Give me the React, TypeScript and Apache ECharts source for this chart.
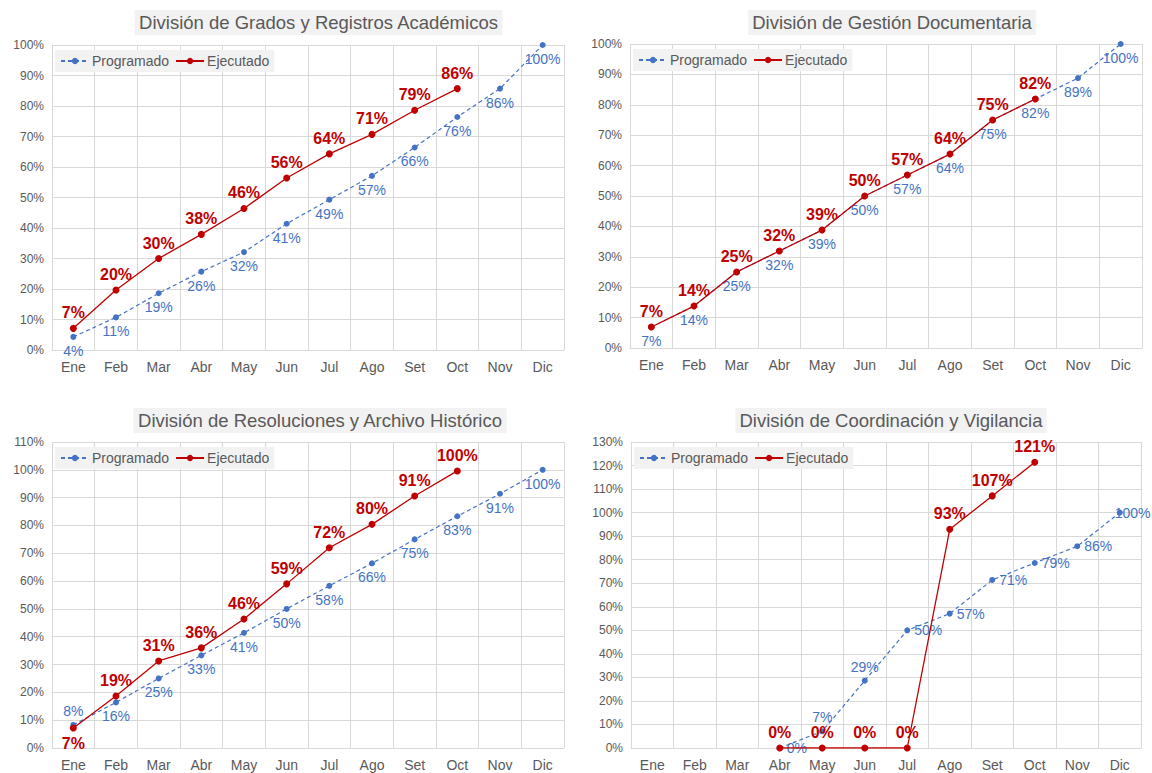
import React, { useEffect, useRef } from "react";
import * as echarts from "echarts";

const months = ["Ene", "Feb", "Mar", "Abr", "May", "Jun", "Jul", "Ago", "Set", "Oct", "Nov", "Dic"];

const titles = [
  "División de Grados y Registros Académicos",
  "División de Gestión Documentaria",
  "División de Resoluciones y Archivo Histórico",
  "División de Coordinación y Vigilancia",
];

const prog1 = [4.3, 10.7, 18.6, 25.7, 32.1, 41.4, 49.3, 57.1, 66.4, 76.4, 85.7, 100];
const ejec1 = [7.1, 19.7, 30, 37.9, 46.4, 56.4, 64.3, 70.7, 78.6, 85.7];
const prog2 = [6.9, 13.8, 25, 31.9, 38.8, 50, 56.9, 63.8, 75, 81.9, 88.8, 100];
const ejec2 = [6.9, 13.8, 25, 31.9, 38.8, 50, 56.9, 63.8, 75, 81.9];
const prog3 = [8.3, 16.4, 25, 33.3, 41.4, 50, 58.3, 66.4, 75, 83.3, 91.4, 100];
const ejec3 = [7.2, 18.7, 31.3, 36, 46.4, 59, 72, 80.4, 90.6, 99.6];
const prog4 = [null, null, null, 0, 7.1, 28.6, 50, 57.1, 71.4, 78.6, 85.7, 100];
const ejec4 = [null, null, null, 0, 0, 0, 0, 92.9, 107.1, 121.4];

const yMax = [100, 100, 110, 130];

const progPos = [
  Array(12).fill("bottom"),
  Array(12).fill("bottom"),
  ["top", "bottom", "bottom", "bottom", "bottom", "bottom", "bottom", "bottom", "bottom", "bottom", "bottom", "bottom"],
  ["right", "right", "right", "right", "top", "top", "right", "right", "right", "right", "right", "right"],
];
const ejecPos = [
  Array(10).fill("top"),
  Array(10).fill("top"),
  ["bottom", "top", "top", "top", "top", "top", "top", "top", "top", "top"],
  Array(10).fill("top"),
];

const progData = [prog1, prog2, prog3, prog4];
const ejecData = [ejec1, ejec2, ejec3, ejec4];

const grids = [
  { left: 52, top: 45, width: 512, height: 305 },
  { left: 630, top: 44, width: 512, height: 304 },
  { left: 52, top: 442, width: 512, height: 306 },
  { left: 631, top: 442, width: 510, height: 306 },
];
const titlePos = [
  { x: 314.5, y: 10 },
  { x: 888, y: 10 },
  { x: 316, y: 408 },
  { x: 887, y: 408 },
];

const FONT = "Liberation Sans, Arial, sans-serif";
const BLUE = "#4472c4";
const RED = "#c00000";
const GREY = "#595959";

export default function App() {
  const ref = useRef<HTMLDivElement>(null);
  useEffect(() => {
    if (!ref.current) return;
    const chart = echarts.init(ref.current, undefined, { renderer: "svg" });
    const fmt = (p: any) => (p.value == null ? "" : Math.round(p.value) + "%");
    const series: any[] = [];
    for (let i = 0; i < 4; i++) {
      series.push({
        name: "Programado",
        type: "line",
        xAxisIndex: i,
        yAxisIndex: i,
        data: progData[i].map((v, j) => {
          const lbl: any = { position: progPos[i][j] };
          if (i === 3 && j === 11) {
            lbl.distance = 0;
            lbl.offset = [-8, 0];
          }
          return { value: v, label: lbl };
        }),
        symbol: "circle",
        symbolSize: 6,
        lineStyle: { color: BLUE, width: 1.2, type: [4, 3] },
        itemStyle: { color: BLUE },
        label: { show: true, formatter: fmt, color: BLUE, fontSize: 14, fontFamily: FONT, distance: 4 },
        z: 2,
      });
      series.push({
        name: "Ejecutado",
        type: "line",
        xAxisIndex: i,
        yAxisIndex: i,
        data: ejecData[i].map((v, j) => ({ value: v, label: { position: ejecPos[i][j] } })),
        symbol: "circle",
        symbolSize: 7,
        lineStyle: { color: RED, width: 1.3 },
        itemStyle: { color: RED },
        label: { show: true, formatter: fmt, color: RED, fontSize: 16, fontWeight: "bold", fontFamily: FONT, distance: 4 },
        z: 3,
      });
    }
    const option: any = {
      animation: false,
      textStyle: { fontFamily: FONT },
      title: titles.map((t, i) => ({
        text: t,
        left: titlePos[i].x,
        top: titlePos[i].y,
        textAlign: "center",
        backgroundColor: "#f2f2f2",
        padding: [3, 4, 3, 4],
        textStyle: { fontSize: 18.5, fontWeight: "normal", color: GREY, fontFamily: FONT },
      })),
      legend: grids.map((g) => ({
        data: ["Programado", "Ejecutado"],
        left: g.left + 3,
        top: g.top + 5,
        backgroundColor: "#f2f2f2",
        padding: [4, 5, 4, 5],
        itemGap: 6,
        itemWidth: 28,
        itemHeight: 8,
        textStyle: { fontSize: 14, color: GREY, fontFamily: FONT, padding: [0, 0, 0, -2] },
        selectedMode: false,
      })),
      grid: grids.map((g) => ({ ...g, containLabel: false })),
      xAxis: grids.map((g, i) => ({
        type: "category",
        gridIndex: i,
        data: months,
        boundaryGap: true,
        axisLine: { show: true, lineStyle: { color: "#d9d9d9", width: 1 } },
        axisTick: { show: false },
        axisLabel: { color: GREY, fontSize: 14, fontFamily: FONT, margin: 10, interval: 0 },
        splitLine: { show: true, interval: 0, lineStyle: { color: "#d9d9d9", width: 1 } },
      })),
      yAxis: grids.map((g, i) => ({
        type: "value",
        gridIndex: i,
        min: 0,
        max: yMax[i],
        interval: 10,
        axisLine: { show: false },
        axisTick: { show: false },
        axisLabel: { color: GREY, fontSize: 12, fontFamily: FONT, margin: 8, formatter: "{value}%" },
        splitLine: { show: true, lineStyle: { color: "#d9d9d9", width: 1 } },
      })),
      series,
    };
    chart.setOption(option);
    return () => chart.dispose();
  }, []);
  return (
    <div style={{ position: "absolute", left: 0, top: 0, width: 1152, height: 773, background: "#fff" }}>
      <div ref={ref} style={{ width: 1152, height: 773 }} />
    </div>
  );
}
